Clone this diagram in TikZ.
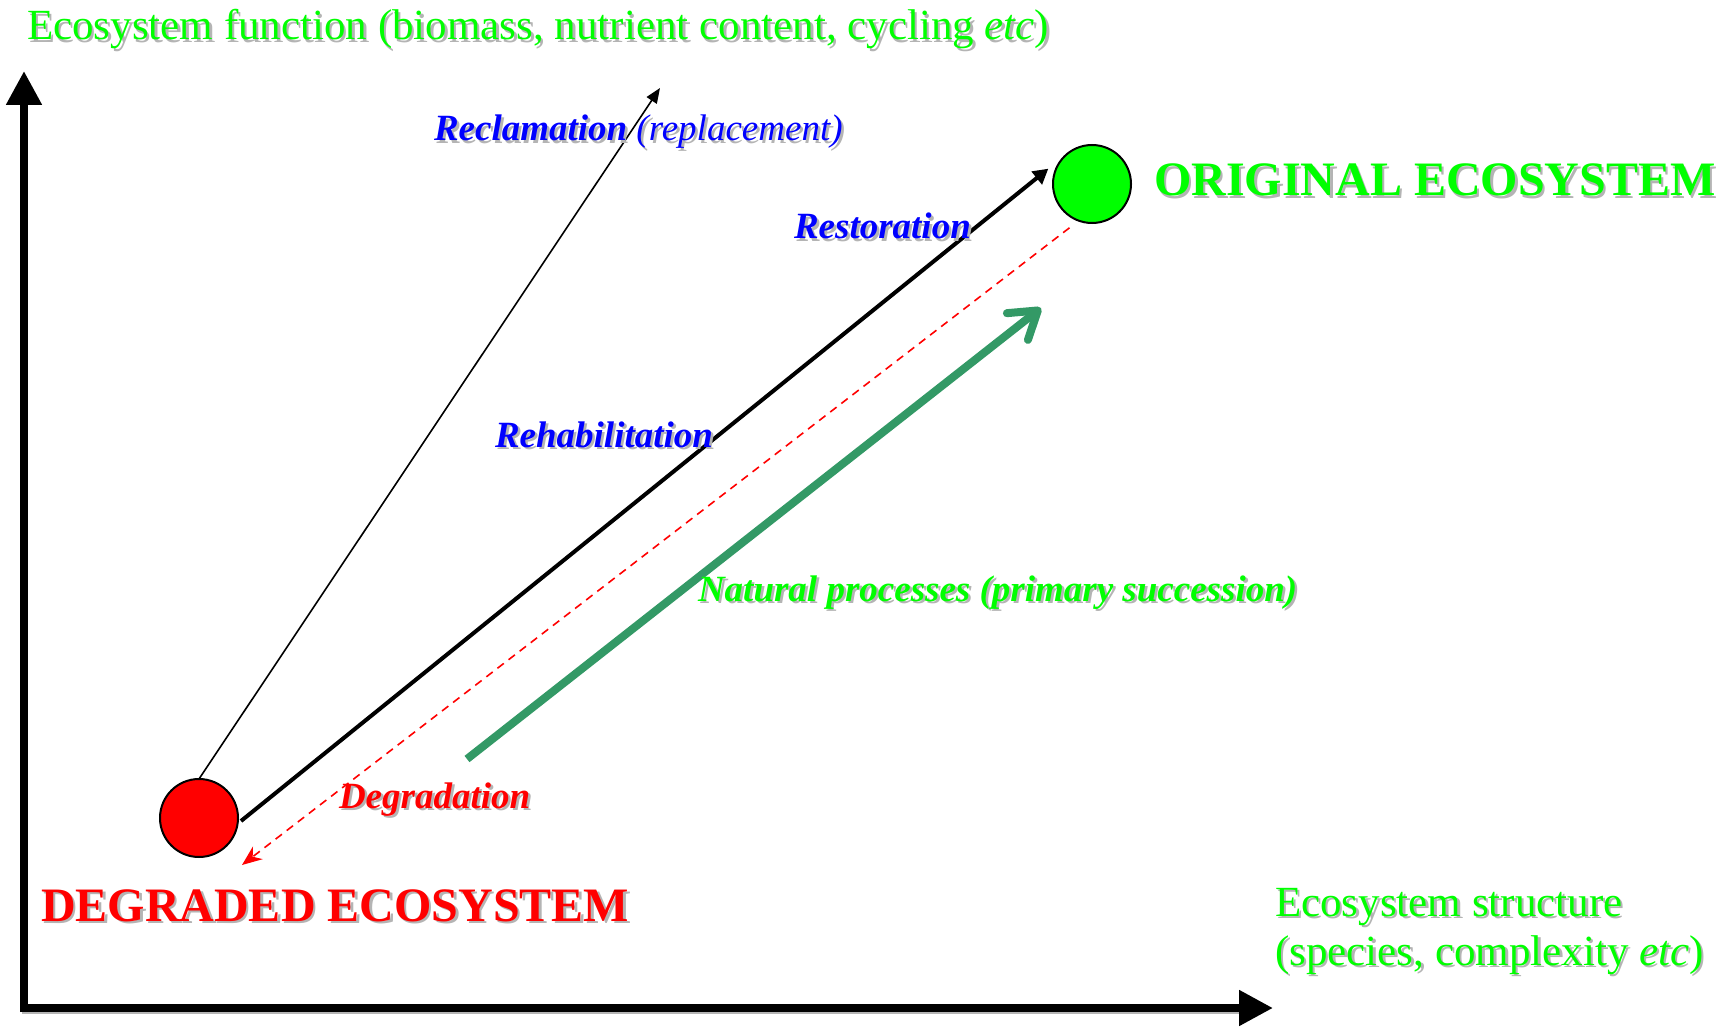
\documentclass[tikz,border=0pt]{standalone}
\usepackage{fontspec}
\setmainfont{Liberation Serif}
\usetikzlibrary{arrows.meta}
\definecolor{lime}{RGB}{0,255,0}
\definecolor{pureblue}{RGB}{0,0,255}
\definecolor{purered}{RGB}{255,0,0}
\definecolor{seagreen}{RGB}{51,153,102}
\definecolor{shadowgray}{RGB}{180,180,180}
\newcommand\shlbl[4]{%
  \node[#3, text=shadowgray, anchor=base west] (#1-sh) at ([shift={(2.5,2.5)}]#2) {#4};
  \node[#3, anchor=base west] (#1) at (#2) {#4};}
\begin{document}
\begin{tikzpicture}[x=0.5pt, y=-0.5pt,
  every node/.style={inner sep=0pt, outer sep=0pt},
  small/.style={font=\fontsize{18.5pt}{22pt}\selectfont\bfseries\itshape},
  axislbl/.style={font=\fontsize{21.5pt}{25pt}\selectfont, text=lime},
  big/.style={font=\fontsize{24pt}{28pt}\selectfont\bfseries},
  axisline/.style={line width=4pt, line join=miter, {Triangle[length=17pt,width=17pt]}-{Triangle[length=17pt,width=17pt]}},
  ball/.style={circle, draw=black, line width=1pt, minimum size=39pt, inner sep=0pt}]
\useasboundingbox[fill=white] (0,0) rectangle (1724,1027);

% axes
\coordinate (ytip) at (24,71);
\coordinate (corner) at (24,1008);
\coordinate (xtip) at (1273,1008);
\draw[shadowgray, line width=4pt] ([shift={(-2,2)}]corner) -- ([shift={(1230,2)}]corner);
\draw[axisline] (ytip) -- (corner) -- (xtip);

% ecosystems
\node[ball, fill=purered] (deg) at (199,818) {};
\node[ball, fill=lime] (orig) at (1092,184) {};

% connectors
\coordinate (reclend) at (660,88);
\coordinate (degend) at (242,865);
\coordinate (natstart) at (467,759);
\coordinate (natend) at (1041,308);
\draw[line width=0.8pt, -{Triangle[length=7.5pt,width=6pt]}] (deg.north) -- (reclend);
\draw[line width=2pt, -{Triangle[length=7.5pt,width=8pt]}] ([shift={(3,3)}]deg.east) -- ([shift={(-7,-2)}]orig.160);
\draw[purered, line width=0.8pt, dash pattern=on 4pt off 3pt, -{Stealth[length=10pt,width=8pt]}] ([shift={(-3,10)}]orig.240) -- (degend);
\draw[seagreen, line width=4pt, -{Straight Barb[length=13pt,width=17pt,round]}] (natstart) -- (natend);

% labels
\shlbl{ylbl}{27,40}{axislbl}{Ecosystem function (biomass, nutrient content, cycling \textit{etc})}
\shlbl{recl}{434,141}{small, text=pureblue}{Reclamation\mdseries\ (replacement)}
\shlbl{rest}{794,239}{small, text=pureblue}{Restoration}
\shlbl{rehab}{495,447}{small, text=pureblue}{Rehabilitation}
\shlbl{nat}{698,601}{small, text=lime}{Natural processes (primary succession)}
\shlbl{degr}{339,808}{small, text=purered}{Degradation}
\shlbl{deglbl}{41,921}{big, text=purered}{DEGRADED ECOSYSTEM}
\shlbl{origlbl}{1154,196}{big, text=lime}{ORIGINAL ECOSYSTEM}
\shlbl{xlbl}{1275,916}{axislbl}{Ecosystem structure}
\shlbl{xlbltwo}{1275,965}{axislbl}{(species, complexity \textit{etc})}
\end{tikzpicture}
\end{document}
